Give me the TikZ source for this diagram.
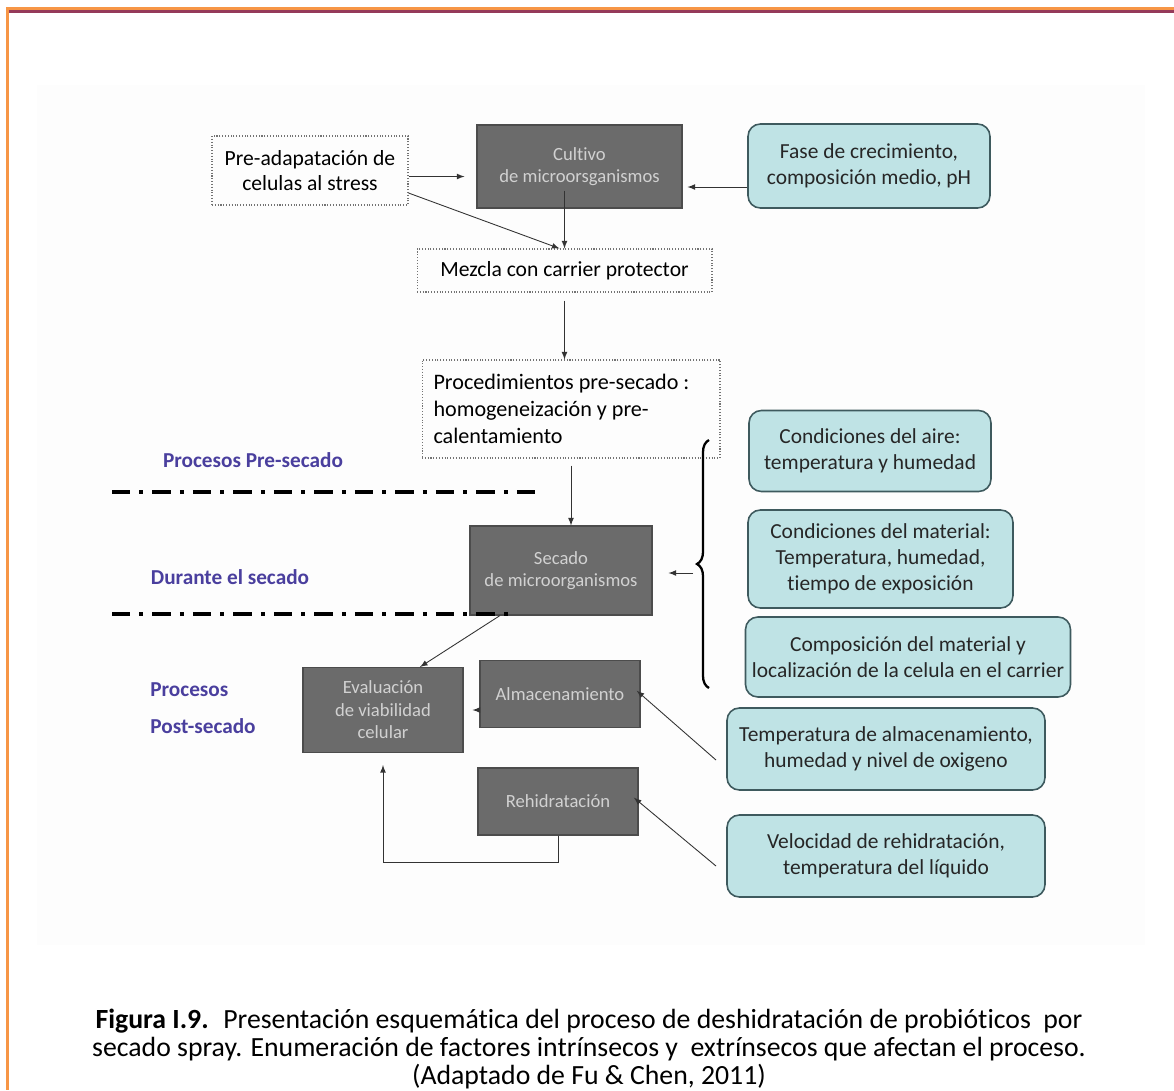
\documentclass[tikz,border=0pt]{standalone}
\usepackage{fontspec}
\setmainfont{Carlito}[Ligatures=NoCommon]
\usetikzlibrary{decorations.pathreplacing}

\definecolor{frameorange}{HTML}{F79646}
\definecolor{framemaroon}{HTML}{953A5A}
\definecolor{stepgray}{HTML}{6B6B6B}
\definecolor{factorblue}{HTML}{BFE3E5}
\definecolor{factorline}{HTML}{3E5A5E}
\definecolor{phaseblue}{HTML}{4A3F9E}

\begin{document}
\begin{tikzpicture}[x=0.02cm, y=-0.02cm, >=latex]
      \tikzstyle{every node}=[inner sep=0pt, align=center]
      \tikzstyle{arr}=[->, draw=black!80, line width=0.5pt]
      \tikzstyle{dotbox}=[draw=black!55, densely dotted, line width=0.6pt, font=\fontsize{12.3}{14.6}\selectfont]
      \tikzstyle{stepbox}=[draw=black!70, fill=stepgray, text=black!18, line width=0.6pt, font=\fontsize{10.6}{12.8}\selectfont]
      \tikzstyle{factor}=[draw=factorline, fill=factorblue, rounded corners=7pt, line width=0.9pt, text=black!85, font=\fontsize{12.2}{14.8}\selectfont]
      \tikzstyle{phase}=[text=phaseblue, font=\bfseries\fontsize{12.1}{21}\selectfont]
      \tikzstyle{phaseline}=[line width=2pt, dash pattern=on 0.37cm off 0.18cm on 0.08cm off 0.18cm]

      \useasboundingbox (0,0) rectangle (1174,1090);

      % Frame and backdrop
      \fill[black!0.6] (37,85) rectangle (1145,945);
      \fill[frameorange] (6,7) rectangle (1174,10);
      \fill[framemaroon] (9,10) rectangle (1174,12.5);
      \fill[frameorange] (6,7) rectangle (9,1090);

      % Process steps
      \node[dotbox, minimum width=3.92cm, minimum height=1.38cm] (pre) at (310,170.5)
          {Pre-adapatación de\\celulas al stress};
      \node[stepbox, minimum width=4.1cm, minimum height=1.66cm] (cultivo) at (579.5,166.5)
          {Cultivo\\de microorsganismos};
      \node[dotbox, minimum width=5.9cm, minimum height=0.86cm] (mezcla) at (564.5,270.5)
          {Mezcla con carrier protector};
      \node[dotbox, text width=5.5cm, inner xsep=0.23cm, minimum height=1.96cm, align=flush left,
            font=\fontsize{12.6}{15.3}\selectfont] (proc) at (571,409)
          {Procedimientos pre-secado :\\homogeneización y pre-\\calentamiento};
      \node[stepbox, minimum width=3.64cm, minimum height=1.78cm] (secado) at (561,570.5)
          {Secado\\de microorganismos};
      \node[stepbox, minimum width=3.2cm, minimum height=1.7cm] (eval) at (383,710)
          {Evaluación\\de viabilidad\\celular};
      \node[stepbox, minimum width=3.2cm, minimum height=1.34cm] (almac) at (560,694)
          {Almacenamiento};
      \node[stepbox, minimum width=3.2cm, minimum height=1.34cm] (rehid) at (558,801.5)
          {Rehidratación};

      % Factors
      \node[factor, minimum width=4.84cm, minimum height=1.68cm] (fase) at (869,166)
          {Fase de crecimiento,\\composición medio, pH};
      \node[factor, minimum width=4.84cm, minimum height=1.62cm] (aire) at (870,451)
          {Condiciones del aire:\\temperatura y humedad};
      \node[factor, minimum width=5.3cm, minimum height=1.96cm] (material) at (880.5,559)
          {Condiciones del material:\\Temperatura, humedad,\\tiempo de exposición};
      \node[factor, minimum width=6.5cm, minimum height=1.6cm] (compos) at (908,657)
          {Composición del material y\\localización de la celula en el carrier};
      \node[factor, minimum width=6.36cm, minimum height=1.64cm] (tempalm) at (886,749)
          {Temperatura de almacenamiento,\\humedad y nivel de oxigeno};
      \node[factor, minimum width=6.36cm, minimum height=1.64cm] (veloc) at (886,856)
          {Velocidad de rehidratación,\\temperatura del líquido};

      % Phase labels
      \node[phase] (presec) at (253,460) {Procesos Pre-secado};
      \node[phase] (durante) at (230,577) {Durante el secado};
      \node[phase, anchor=west, align=left] (postsec) at (150,708.5) {Procesos\\Post-secado};
      \draw[phaseline] (112,492) -- (536,492);
      \draw[phaseline] (112,614) -- (516,614);

      % Brace over the drying factors
      \coordinate (brbot) at (709,688);
      \coordinate (brtop) at (709,440);
      \coordinate (brtip) at (693,573);
      \draw[decorate, decoration={brace, amplitude=0.24cm}, line width=1.3pt] (brbot) -- (brtop);

      % Connections
      \draw[arr, shorten >=0.24cm] ([yshift=-0.12cm]pre.east) -- ([yshift=-0.12cm]pre.east -| cultivo.west);
      \draw[arr, shorten >=0.1cm] ([yshift=-0.42cm]fase.west) -- ([yshift=-0.42cm]fase.west -| cultivo.east);
      \draw[arr] ([yshift=0.36cm]cultivo.south -| mezcla.north) -- (mezcla.north);
      \draw[arr] ([yshift=-0.45cm]pre.east) -- ([xshift=-0.1cm]mezcla.north);
      \draw[arr, shorten <=0.16cm] (mezcla.south) -- (mezcla.south |- proc.north);
      \draw[arr, shorten <=0.14cm] (proc.south) -- (proc.south |- secado.north);
      \draw[arr, shorten >=0.32cm] (brtip) -- (brtip -| secado.east);
      \draw[arr] ([xshift=-1.22cm]secado.south) -- ([xshift=0.74cm]eval.north);
      \draw[arr, shorten >=0.18cm] (eval.east -| almac.west) -- (eval.east);
      \draw[arr, shorten >=0.24cm] (rehid.south) -- ++(0,27) -| (eval.south);
      \coordinate (t1) at (716,760);
      \coordinate (v1) at (716,866);
      \draw[arr, shorten >=-0.1cm] (t1) -- (almac.east);
      \draw[arr, shorten >=-0.12cm] (v1) -- (rehid.east);

      % Caption
      \node[font=\fontsize{15.8}{16}\selectfont] (caption) at (589,1049)
          {\textbf{Figura I.9.}~ Presentación esquemática del proceso de deshidratación de probióticos~ por\\
           secado spray. Enumeración de factores intrínsecos y~ extrínsecos que afectan el proceso.\\
           (Adaptado de Fu \& Chen, 2011)};
\end{tikzpicture}
\end{document}
